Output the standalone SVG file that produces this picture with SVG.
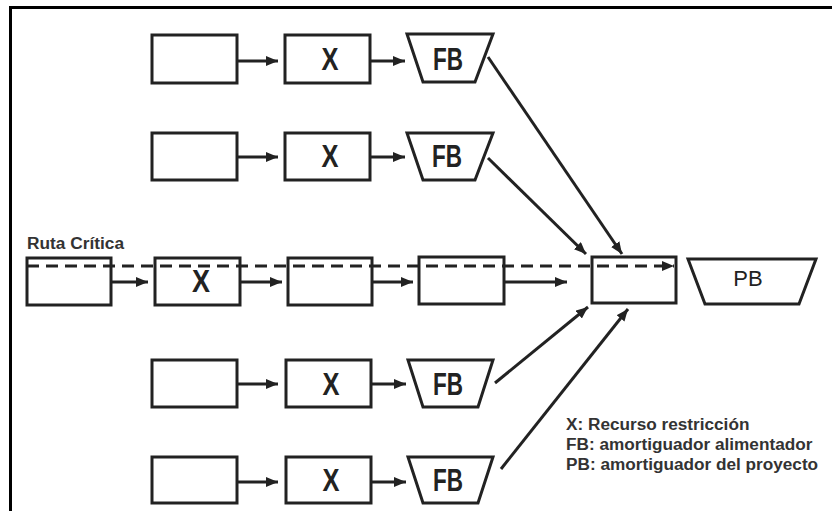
<svg xmlns="http://www.w3.org/2000/svg" width="832" height="511" viewBox="0 0 832 511">
  <style>
    .box { fill: #fff; stroke: #222; stroke-width: 3; }
    .buf { fill: #fff; stroke: #222; stroke-width: 3; stroke-linejoin: miter; }
    .res { font-family: "Liberation Sans", Arial, sans-serif; font-weight: bold; font-size: 31px; fill: #222; text-anchor: middle; }
    .lbl { font-family: "Liberation Sans", Arial, sans-serif; font-weight: bold; fill: #333; }
    .pb { font-family: "Liberation Sans", Arial, sans-serif; font-size: 22px; fill: #222; text-anchor: middle; }
    .arr { stroke: #222; stroke-width: 3; fill: none; marker-end: url(#head); }
    .crit { stroke: #222; stroke-width: 3; fill: none; stroke-dasharray: 12 7; marker-end: url(#head); }
  </style>
  <defs>
    <marker id="head" markerUnits="userSpaceOnUse" markerWidth="13" markerHeight="11" refX="12" refY="5" orient="auto">
      <path d="M0,0 L12,5 L0,10 z" fill="#222"/>
    </marker>
  </defs>

  <rect width="832" height="511" fill="#fff"/>
  <!-- frame -->
  <path d="M10.5,511 V7.5 H832" fill="none" stroke="#000" stroke-width="3"/>

  <!-- feeding chain 1 -->
  <g id="f1-task"><rect class="box" x="152" y="35" width="85" height="48"/></g>
  <g id="f1-res"><rect class="box" x="285" y="35" width="85" height="48"/><text class="res" x="330" y="70" textLength="17" lengthAdjust="spacingAndGlyphs">X</text></g>
  <g id="f1-fb"><polygon class="buf" points="407,34 493,34 475,82 423,82"/><text class="res" x="448" y="70" textLength="30" lengthAdjust="spacingAndGlyphs">FB</text></g>

  <!-- feeding chain 2 -->
  <g id="f2-task"><rect class="box" x="152" y="133" width="85" height="47"/></g>
  <g id="f2-res"><rect class="box" x="285" y="133" width="85" height="47"/><text class="res" x="330" y="167" textLength="17" lengthAdjust="spacingAndGlyphs">X</text></g>
  <g id="f2-fb"><polygon class="buf" points="407,133 493,133 475,180 423,180"/><text class="res" x="447" y="167" textLength="30" lengthAdjust="spacingAndGlyphs">FB</text></g>

  <!-- critical chain -->
  <text class="lbl" x="27" y="249" font-size="16" textLength="97" lengthAdjust="spacingAndGlyphs">Ruta Crítica</text>
  <g id="c1"><rect class="box" x="27" y="258" width="84" height="47"/></g>
  <g id="c2"><rect class="box" x="155" y="258" width="85" height="47"/><text class="res" x="201" y="292" textLength="18" lengthAdjust="spacingAndGlyphs">X</text></g>
  <g id="c3"><rect class="box" x="288" y="258" width="84" height="47"/></g>
  <g id="c4"><rect class="box" x="419" y="257" width="85" height="47"/></g>
  <g id="c-end"><rect class="box" x="592" y="257" width="84" height="46"/></g>
  <g id="pb"><polygon class="buf" points="688,259 816,259 799,304 705,304"/><text class="pb" x="748" y="286">PB</text></g>

  <!-- feeding chain 3 -->
  <g id="f3-task"><rect class="box" x="152" y="360" width="85" height="47"/></g>
  <g id="f3-res"><rect class="box" x="286" y="360" width="85" height="47"/><text class="res" x="331" y="395" textLength="17" lengthAdjust="spacingAndGlyphs">X</text></g>
  <g id="f3-fb"><polygon class="buf" points="408,360 493,360 478,407 423,407"/><text class="res" x="448" y="395" textLength="30" lengthAdjust="spacingAndGlyphs">FB</text></g>

  <!-- feeding chain 4 -->
  <g id="f4-task"><rect class="box" x="152" y="457" width="85" height="46"/></g>
  <g id="f4-res"><rect class="box" x="286" y="457" width="85" height="46"/><text class="res" x="331" y="491" textLength="17" lengthAdjust="spacingAndGlyphs">X</text></g>
  <g id="f4-fb"><polygon class="buf" points="408,457 493,457 478,503 423,503"/><text class="res" x="448" y="491" textLength="30" lengthAdjust="spacingAndGlyphs">FB</text></g>

  <!-- legend -->
  <g id="legend" class="lbl" font-size="17.2">
    <text x="566" y="430">X: Recurso restricción</text>
    <text x="566" y="450">FB: amortiguador alimentador</text>
    <text x="566" y="470">PB: amortiguador del proyecto</text>
  </g>

  <g id="connectors">
    <line class="arr" x1="237" y1="61" x2="278" y2="61"/>
    <line class="arr" x1="370" y1="61" x2="405" y2="61"/>
    <line class="arr" x1="237" y1="157" x2="278" y2="157"/>
    <line class="arr" x1="370" y1="157" x2="405" y2="157"/>
    <line class="arr" x1="237" y1="384" x2="278" y2="384"/>
    <line class="arr" x1="371" y1="384" x2="406" y2="384"/>
    <line class="arr" x1="237" y1="482" x2="278" y2="482"/>
    <line class="arr" x1="371" y1="482" x2="406" y2="482"/>

    <line class="arr" x1="111" y1="282" x2="148" y2="282"/>
    <line class="arr" x1="240" y1="282" x2="282" y2="282"/>
    <line class="arr" x1="372" y1="282" x2="413" y2="282"/>
    <line class="arr" x1="504" y1="282" x2="567" y2="282"/>

    <line class="crit" x1="27" y1="266" x2="674" y2="266"/>

    <line class="arr" x1="488" y1="57" x2="622" y2="254"/>
    <line class="arr" x1="488" y1="158" x2="586" y2="254"/>
    <line class="arr" x1="495" y1="383" x2="588" y2="307"/>
    <line class="arr" x1="501" y1="469" x2="628" y2="309"/>
  </g>
</svg>
